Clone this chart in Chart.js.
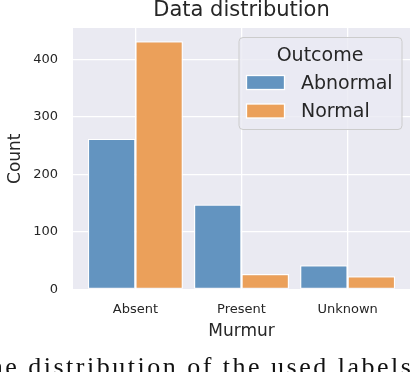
<!DOCTYPE html>
<html><head><meta charset="utf-8">
<script src="https://cdn.jsdelivr.net/npm/chart.js@4"></script>
<style>html,body{margin:0;padding:0;background:#fff}</style>
</head><body>
<canvas id="c" width="410" height="372"></canvas>
<script>
const categories = ['Absent', 'Present', 'Unknown'];
const seriesNames = ['Abnormal', 'Normal'];
const abnormalCounts = [262, 148, 42];
const normalCounts = [432, 27, 23];
const yTickValues = [0, 100, 200, 300, 400];
const legendTitle = 'Outcome';
const chartTitle = 'Data distribution';
const xTitle = 'Murmur';
const yTitle = 'Count';
const captionText = 'the distribution of the used labels in the dataset';

const colors = ['#6394c0', '#eba05a'];
const FONT = "'DejaVu Sans', sans-serif";
const TXT = '#262626';

const bgPlugin = {
  id: 'bg',
  beforeDraw(chart) {
    const {ctx, chartArea: a} = chart;
    ctx.save();
    ctx.fillStyle = '#ffffff';
    ctx.fillRect(0, 0, chart.width, chart.height);
    ctx.fillStyle = '#eaeaf2';
    ctx.fillRect(a.left, a.top, a.right - a.left, a.bottom - a.top);
    ctx.restore();
  }
};

const legendPlugin = {
  id: 'innerLegend',
  afterDraw(chart) {
    const {ctx, chartArea: a} = chart;
    const w = 163, h = 92;
    const x = a.right - 8.5 - w, y = a.top + 9;
    ctx.save();
    ctx.beginPath();
    ctx.roundRect(x + 0.5, y + 0.5, w, h, 4);
    ctx.fillStyle = 'rgba(234,234,242,0.8)';
    ctx.fill();
    ctx.strokeStyle = '#cccccc';
    ctx.lineWidth = 1;
    ctx.stroke();
    ctx.fillStyle = TXT;
    ctx.font = '19px ' + FONT;
    ctx.textAlign = 'center';
    ctx.textBaseline = 'alphabetic';
    ctx.fillText(legendTitle, x + w / 2, y + 24);
    ctx.textAlign = 'left';
    chart.data.datasets.forEach((ds, i) => {
      const sy = y + 38.5 + i * 28.5;
      ctx.fillStyle = ds.backgroundColor;
      ctx.fillRect(x + 8, sy, 38, 14);
      ctx.strokeStyle = '#ffffff';
      ctx.lineWidth = 1.3;
      ctx.strokeRect(x + 8, sy, 38, 14);
      ctx.fillStyle = TXT;
      ctx.fillText(ds.label, x + 62.5, sy + 13);
    });
    ctx.restore();
  }
};

const captionPlugin = {
  id: 'caption',
  afterDraw(chart) {
    const ctx = chart.ctx;
    ctx.save();
    ctx.fillStyle = '#111111';
    ctx.font = "26px 'Liberation Serif', serif";
    ctx.letterSpacing = '2.5px';
    ctx.textAlign = 'left';
    ctx.textBaseline = 'alphabetic';
    ctx.fillText(captionText, -20, 375);
    ctx.restore();
  }
};

const seriesValues = [abnormalCounts, normalCounts];
const datasets = seriesNames.map((name, si) => ({
  label: name,
  data: categories.map((c, i) => ({x: i, y: seriesValues[si][i]})),
  backgroundColor: colors[si],
  borderColor: '#ffffff',
  borderWidth: 1.2,
  borderSkipped: false,
  categoryPercentage: 0.895,
  barPercentage: 1.0
}));

new Chart(document.getElementById('c'), {
  type: 'bar',
  data: {datasets},
  plugins: [bgPlugin, legendPlugin, captionPlugin],
  options: {
    responsive: false,
    devicePixelRatio: 1,
    animation: false,
    layout: {padding: 0},
    plugins: {
      legend: {display: false},
      tooltip: {enabled: false},
      title: {
        display: true,
        text: chartTitle,
        fullSize: false,
        color: TXT,
        font: {family: FONT, size: 21, weight: 'normal', lineHeight: 1.0},
        padding: {top: 0, bottom: 7}
      }
    },
    scales: {
      x: {
        type: 'linear',
        min: -0.588,
        max: 2.588,
        offset: false,
        afterFit(s) { s.height = 82.5; },
        afterBuildTicks(s) { s.ticks = categories.map((c, i) => ({value: i})); },
        grid: {color: '#ffffff', lineWidth: 1.3, drawTicks: false, offset: false},
        border: {display: false},
        ticks: {
          padding: 12,
          color: TXT,
          font: {family: FONT, size: 13},
          callback: (v) => categories[v]
        },
        title: {
          display: true, text: xTitle, color: TXT,
          font: {family: FONT, size: 17},
          padding: {top: 0, bottom: 29.8}
        }
      },
      y: {
        min: 0,
        max: 455,
        afterFit(s) { s.width = 73; },
        afterBuildTicks(s) { s.ticks = yTickValues.map(v => ({value: v})); },
        grid: {color: '#ffffff', lineWidth: 1.3, drawTicks: false},
        border: {display: false},
        ticks: {
          padding: 15,
          color: TXT,
          font: {family: FONT, size: 13}
        },
        title: {
          display: true, text: yTitle, color: TXT,
          font: {family: FONT, size: 17},
          padding: {top: 5.6, bottom: 0}
        }
      }
    }
  }
});
</script>
</body></html>
